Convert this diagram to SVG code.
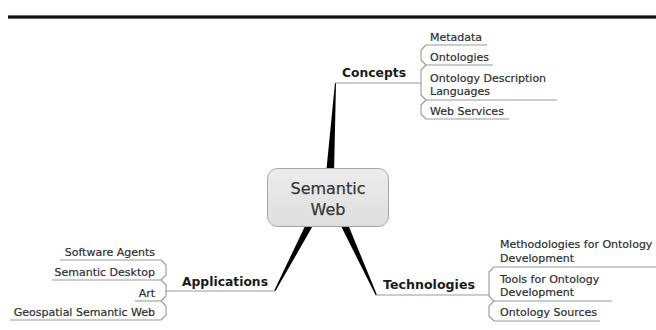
<svg xmlns="http://www.w3.org/2000/svg" width="656" height="330" viewBox="0 0 656 330">
<defs>
<linearGradient id="nodeFill" x1="0" y1="0" x2="0" y2="1">
<stop offset="0" stop-color="#ececec"/>
<stop offset="1" stop-color="#dedede"/>
</linearGradient>
<style>
.t{font-family:"DejaVu Sans","Liberation Sans",sans-serif;}
.child{font-size:11px;fill:#2e2e2e;stroke:#2e2e2e;stroke-width:0.2;}
.head{font-size:13px;font-weight:bold;fill:#1a1a1a;}
.center{font-size:16px;fill:#383838;stroke:#383838;stroke-width:0.25;text-anchor:middle;}
.ul{stroke:#9a9a9a;stroke-width:1.1;fill:none;}
.br{stroke:#9a9a9a;stroke-width:1.1;fill:none;stroke-linejoin:round;}
.wedge{fill:#000;}
</style>
</defs>
<rect x="0" y="0" width="656" height="330" fill="#fff"/>
<!-- top rule -->
<rect x="8" y="15" width="648" height="4" fill="#6a6a6a"/>
<rect x="8" y="16" width="648" height="2" fill="#111"/>

<g id="connectors">
<path class="wedge" d="M326,174 L334,174 L336,83 L335,83 Z"/>
<path class="wedge" d="M307,222 L315,222 L275.5,291 L274,291 Z"/>
<path class="wedge" d="M339,222 L347,222 L377,295 L375.5,295 Z"/>
<path class="br" d="M426,45 L421,50 V60 L426,65 L421,70 V95 L426,100 L421,105 V114 L426,119"/>
<path class="br" d="M161,260 L166,265 V275 L161,280 L166,285 V296 L161,301 L166,306 V315 L161,320"/>
<path class="br" d="M494,267 L489,272 V296 L494,301 L489,306 V316 L494,321"/>
</g>

<g id="node-semantic-web">
<rect x="267.5" y="168.5" width="121" height="58" rx="10" ry="10" fill="url(#nodeFill)" stroke="#a5a5a5"/>
<text class="t center" x="328" y="194">Semantic</text>
<text class="t center" x="328" y="215">Web</text>
</g>

<g id="node-concepts">
<text class="t head" x="342" y="77" textLength="64" lengthAdjust="spacingAndGlyphs">Concepts</text>
<path class="ul" d="M335,83 H421"/>
</g>
<g id="node-metadata">
<text class="t child" x="430" y="41">Metadata</text>
<path class="ul" d="M426,45 H487"/>
</g>
<g id="node-ontologies">
<text class="t child" x="430" y="61">Ontologies</text>
<path class="ul" d="M426,65 H493"/>
</g>
<g id="node-ontology-description-languages">
<text class="t child" x="430" y="82">Ontology Description</text>
<text class="t child" x="430" y="95">Languages</text>
<path class="ul" d="M426,100 H557"/>
</g>
<g id="node-web-services">
<text class="t child" x="430" y="115">Web Services</text>
<path class="ul" d="M426,119 H509"/>
</g>

<g id="node-applications">
<text class="t head" x="182" y="286" textLength="86" lengthAdjust="spacingAndGlyphs">Applications</text>
<path class="ul" d="M166,291 H275"/>
</g>
<g id="node-software-agents">
<text class="t child" x="155" y="256" text-anchor="end">Software Agents</text>
<path class="ul" d="M60,260 H161"/>
</g>
<g id="node-semantic-desktop">
<text class="t child" x="155" y="276" text-anchor="end">Semantic Desktop</text>
<path class="ul" d="M52,280 H161"/>
</g>
<g id="node-art">
<text class="t child" x="155" y="297" text-anchor="end">Art</text>
<path class="ul" d="M135,301 H161"/>
</g>
<g id="node-geospatial-semantic-web">
<text class="t child" x="155" y="316" text-anchor="end">Geospatial Semantic Web</text>
<path class="ul" d="M10,320 H161"/>
</g>

<g id="node-technologies">
<text class="t head" x="383" y="289" textLength="92" lengthAdjust="spacingAndGlyphs">Technologies</text>
<path class="ul" d="M375,295 H489"/>
</g>
<g id="node-methodologies">
<text class="t child" x="500" y="248">Methodologies for Ontology</text>
<text class="t child" x="500" y="262">Development</text>
<path class="ul" d="M494,267 H656"/>
</g>
<g id="node-tools">
<text class="t child" x="500" y="283">Tools for Ontology</text>
<text class="t child" x="500" y="296">Development</text>
<path class="ul" d="M494,301 H612"/>
</g>
<g id="node-ontology-sources">
<text class="t child" x="500" y="316">Ontology Sources</text>
<path class="ul" d="M494,321 H600"/>
</g>
</svg>
